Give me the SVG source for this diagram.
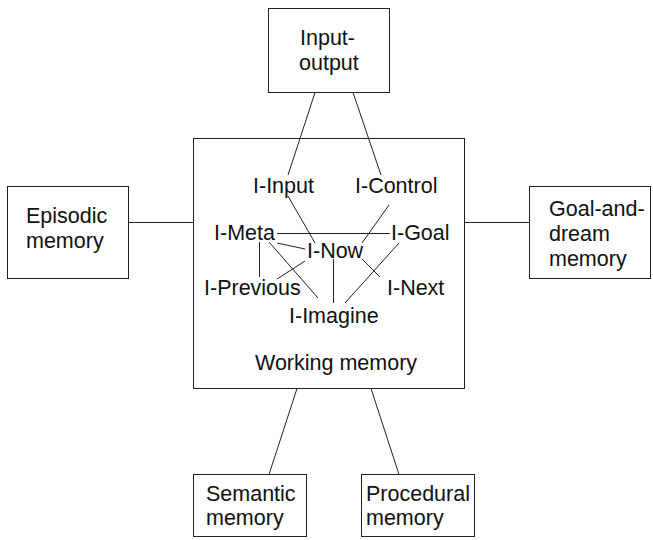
<svg xmlns="http://www.w3.org/2000/svg" width="653" height="540" viewBox="0 0 653 540">
<style>
.box{fill:#fff;stroke:#222;stroke-width:1}
.ln{stroke:#222;stroke-width:1;fill:none}
text{font-family:"Liberation Sans",Arial,sans-serif;font-size:21.5px;fill:#111}
</style>
<rect width="653" height="540" fill="#fff"/>
<g id="working-memory">
<rect class="box" x="193.5" y="138.5" width="271" height="250"/>
<text x="255" y="370">Working memory</text>
</g>
<g id="input-output">
<rect class="box" x="268.5" y="8.5" width="121" height="84"/>
<text x="300" y="45">Input-</text>
<text x="299" y="70">output</text>
</g>
<g id="episodic">
<rect class="box" x="7.5" y="186.5" width="121" height="92"/>
<text x="26" y="223">Episodic</text>
<text x="26" y="248">memory</text>
</g>
<g id="goal-and-dream">
<rect class="box" x="529.5" y="186.5" width="121" height="92"/>
<text x="549" y="216">Goal-and-</text>
<text x="549" y="241">dream</text>
<text x="549" y="266">memory</text>
</g>
<g id="semantic">
<rect class="box" x="193.5" y="474.5" width="113" height="62"/>
<text x="206" y="501">Semantic</text>
<text x="206" y="525">memory</text>
</g>
<g id="procedural">
<rect class="box" x="361.5" y="474.5" width="113" height="62"/>
<text x="366" y="501">Procedural</text>
<text x="366" y="525">memory</text>
</g>
<g id="i-input"><text x="253" y="193">I-Input</text></g>
<g id="i-control"><text x="355" y="193">I-Control</text></g>
<g id="i-meta"><text x="214" y="240">I-Meta</text></g>
<g id="i-goal"><text x="391" y="240">I-Goal</text></g>
<g id="i-now"><text x="307" y="258">I-Now</text></g>
<g id="i-previous"><text x="204" y="295">I-Previous</text></g>
<g id="i-next"><text x="387" y="295">I-Next</text></g>
<g id="i-imagine"><text x="289" y="323">I-Imagine</text></g>
<g id="connectors">
<line class="ln" x1="128.5" y1="222.5" x2="193.5" y2="222.5"/>
<line class="ln" x1="464.5" y1="222.5" x2="529.5" y2="222.5"/>
<line class="ln" x1="315" y1="92.5" x2="288" y2="175"/>
<line class="ln" x1="353" y1="92.5" x2="381" y2="175"/>
<line class="ln" x1="297" y1="388.5" x2="269" y2="474.5"/>
<line class="ln" x1="371" y1="388.5" x2="399" y2="474.5"/>
<line class="ln" x1="288" y1="196" x2="315" y2="243"/>
<line class="ln" x1="389" y1="205" x2="362" y2="243"/>
<line class="ln" x1="277" y1="233.5" x2="390" y2="233.5"/>
<line class="ln" x1="277" y1="243" x2="305" y2="249"/>
<line class="ln" x1="259.5" y1="242" x2="259.5" y2="277"/>
<line class="ln" x1="269" y1="242" x2="318" y2="298"/>
<line class="ln" x1="305" y1="261" x2="277" y2="279"/>
<line class="ln" x1="333.5" y1="259" x2="333.5" y2="303"/>
<line class="ln" x1="399" y1="243" x2="345" y2="303"/>
<line class="ln" x1="362" y1="259" x2="380" y2="277"/>
</g>
</svg>
